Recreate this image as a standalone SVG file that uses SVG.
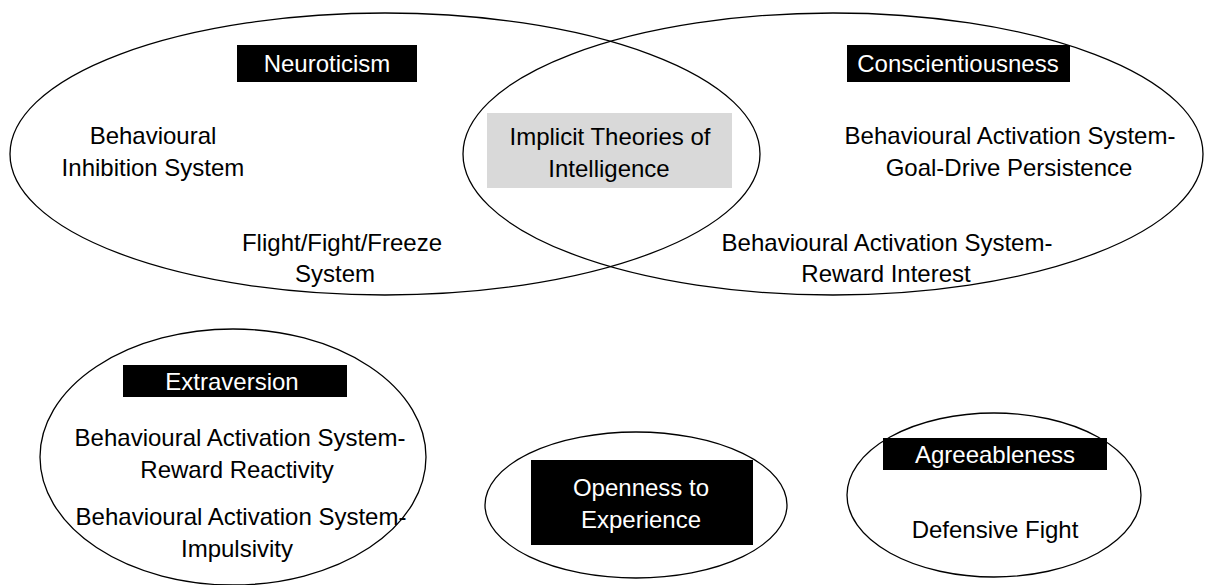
<svg xmlns="http://www.w3.org/2000/svg" width="1206" height="585" viewBox="0 0 1206 585">
<style>
.ell{fill:none;stroke:#000;stroke-width:1.3}
.lbl{fill:#000}
.gray{fill:#d9d9d9}
text{font-family:"Liberation Sans",Arial,sans-serif;font-size:24px;text-anchor:middle}
.w{fill:#fff}
.k{fill:#000}
</style>
<rect width="1206" height="585" fill="#fff"/>
<g id="neuroticism">
<ellipse class="ell" cx="385" cy="154" rx="375" ry="141"/>
<rect class="lbl" x="237" y="45" width="180" height="37"/>
<text class="w" x="327" y="72">Neuroticism</text>
<text class="k" x="153" y="144">Behavioural</text>
<text class="k" x="153" y="176">Inhibition System</text>
<text class="k" x="342" y="251">Flight/Fight/Freeze</text>
<text class="k" x="335" y="282">System</text>
</g>
<g id="conscientiousness">
<ellipse class="ell" cx="833" cy="154" rx="370" ry="141"/>
<rect class="lbl" x="847" y="45" width="223" height="37"/>
<text class="w" x="958" y="72">Conscientiousness</text>
<text class="k" x="1010" y="144">Behavioural Activation System-</text>
<text class="k" x="1009" y="176">Goal-Drive Persistence</text>
<text class="k" x="887" y="251">Behavioural Activation System-</text>
<text class="k" x="886" y="282">Reward Interest</text>
</g>
<g id="implicit">
<rect class="gray" x="487" y="113" width="245" height="75"/>
<text class="k" x="610" y="145">Implicit Theories of</text>
<text class="k" x="609" y="177">Intelligence</text>
</g>
<g id="extraversion">
<ellipse class="ell" cx="233" cy="457" rx="193" ry="128"/>
<rect class="lbl" x="123" y="365" width="224" height="32"/>
<text class="w" x="232" y="390">Extraversion</text>
<text class="k" x="240" y="446">Behavioural Activation System-</text>
<text class="k" x="237" y="478">Reward Reactivity</text>
<text class="k" x="241" y="525">Behavioural Activation System-</text>
<text class="k" x="237" y="557">Impulsivity</text>
</g>
<g id="openness">
<ellipse class="ell" cx="636" cy="505" rx="151" ry="73"/>
<rect class="lbl" x="531" y="460" width="222" height="85"/>
<text class="w" x="641" y="496">Openness to</text>
<text class="w" x="641" y="528">Experience</text>
</g>
<g id="agreeableness">
<ellipse class="ell" cx="994" cy="495" rx="147" ry="82"/>
<rect class="lbl" x="883" y="438" width="224" height="32"/>
<text class="w" x="995" y="463">Agreeableness</text>
<text class="k" x="995" y="538">Defensive Fight</text>
</g>
<g id="connectors"></g>
</svg>
